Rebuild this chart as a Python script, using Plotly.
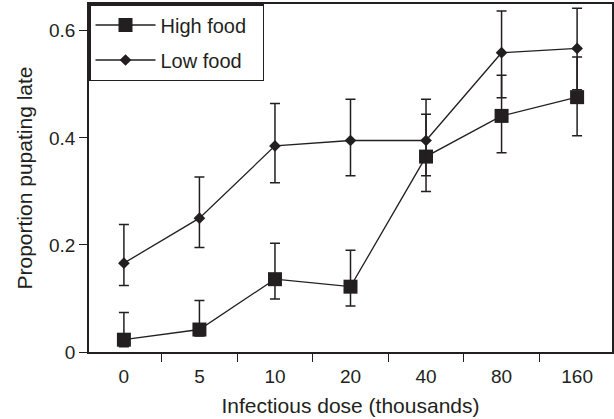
import plotly.graph_objects as go

doses = ["0", "5", "10", "20", "40", "80", "160"]

high_food = [0.023, 0.042, 0.136, 0.122, 0.365, 0.441, 0.476]
high_upper = [0.074, 0.096, 0.203, 0.190, 0.444, 0.517, 0.551]
high_lower = [0.010, 0.030, 0.099, 0.086, 0.300, 0.372, 0.404]

low_food = [0.166, 0.250, 0.385, 0.395, 0.395, 0.559, 0.567]
low_upper = [0.238, 0.327, 0.464, 0.472, 0.472, 0.637, 0.642]
low_lower = [0.124, 0.195, 0.316, 0.329, 0.329, 0.475, 0.490]

y_ticks = [0, 0.2, 0.4, 0.6]
y_ticklabels = ["0", "0.2", "0.4", "0.6"]

INK = "#231f20"
FONT = "Liberation Sans, Arial, sans-serif"
PAD = "\u00a0\u00a0"


def err(vals, up, lo):
    return dict(
        type="data", symmetric=False,
        array=[u - v for u, v in zip(up, vals)],
        arrayminus=[v - l for v, l in zip(vals, lo)],
        color=INK, thickness=1.5, width=5,
    )


fig = go.Figure()
fig.add_trace(go.Scatter(
    x=doses, y=high_food, name="High food" + PAD, mode="lines+markers",
    line=dict(color=INK, width=1.3),
    marker=dict(symbol="square", size=14, color=INK),
    error_y=err(high_food, high_upper, high_lower),
    legendgroup="a",
))
fig.add_trace(go.Scatter(
    x=doses, y=low_food, name="Low food" + PAD, mode="lines+markers",
    line=dict(color=INK, width=1.3),
    marker=dict(symbol="diamond", size=9, color=INK),
    error_y=err(low_food, low_upper, low_lower),
    legendgroup="b",
))

fig.update_layout(
    width=614, height=419, autosize=False,
    margin=dict(l=89, r=2, t=4, b=67),
    paper_bgcolor="white", plot_bgcolor="white",
    font=dict(family=FONT, size=19, color=INK),
    showlegend=True,
    legend=dict(
        x=0, y=1, xanchor="left", yanchor="top",
        bordercolor=INK, borderwidth=1.5, bgcolor="white",
        font=dict(size=20, color=INK),
        tracegroupgap=6, traceorder="grouped",
        itemwidth=60,
    ),
    xaxis=dict(
        type="category", categoryorder="array", categoryarray=doses,
        tickson="boundaries", ticks="outside", ticklen=8, tickwidth=1.3, tickcolor=INK,
        showline=True, linecolor=INK, linewidth=1.5, mirror=True,
        showgrid=False, zeroline=False, automargin=False,
        ticklabelstandoff=6,
        title=dict(text="Infectious dose (thousands)", font=dict(size=21), standoff=13),
        tickfont=dict(size=19),
    ),
    yaxis=dict(
        range=[0, 0.65], tickvals=y_ticks, ticktext=y_ticklabels,
        ticks="outside", ticklen=8, tickwidth=1.3, tickcolor=INK,
        showline=True, linecolor=INK, linewidth=1.5, mirror=True,
        showgrid=False, zeroline=False, automargin=False,
        title=dict(text="Proportion pupating late", font=dict(size=21), standoff=11),
        tickfont=dict(size=19),
    ),
)

post = (
    "document.documentElement.style.margin='0';"
    "document.body.style.margin='0';document.body.style.padding='0';"
    "Plotly.relayout('{plot_id}', {width: 614, height: 419});"
)
fig.write_html("out.html", post_script=post, config={"displayModeBar": False})
